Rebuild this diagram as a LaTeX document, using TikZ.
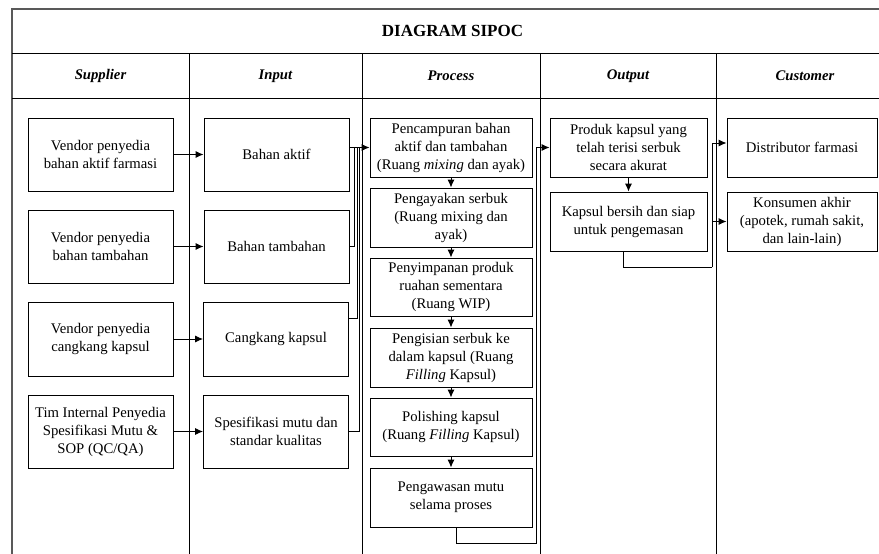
\documentclass[tikz,border=0pt]{standalone}
\usepackage{fontspec}
\setmainfont{Liberation Serif}
\usetikzlibrary{arrows.meta,calc}
\begin{document}
\begin{tikzpicture}[x=1pt,y=-1pt,
  box/.style={draw, line width=0.9pt, inner sep=0pt, align=center,
    font=\fontsize{14.7}{18}\selectfont},
  sbox/.style={box, minimum width=145, minimum height=73},
  pbox/.style={box, minimum width=162, minimum height=59},
  obox/.style={box, minimum width=157, minimum height=59},
  cbox/.style={box, minimum width=150, minimum height=59},
  conn/.style={line width=0.9pt},
  arr/.style={conn, -{Latex[length=8pt,width=7pt]}},
  frame/.style={line width=1.6pt, draw=black!65},
  grid/.style={line width=1pt},
  hdr/.style={inner sep=0pt, font=\fontsize{14.7}{18}\selectfont\bfseries\itshape},
  ttl/.style={inner sep=0pt, font=\fontsize{17}{20}\selectfont\bfseries}]
\useasboundingbox (0,0) rectangle (879,554);
% table frame
\draw[frame] (12,554) -- (12,9) -- (879,9);
\draw[grid] (12,53) -- (879,53);
\draw[grid] (12,98) -- (879,98);
\foreach \cx in {189,362,540,716} \draw[grid] (\cx,53) -- (\cx,554);
% headers
\node[ttl] (title) at (452.5,31) {DIAGRAM SIPOC};
\node[hdr] (hS) at (100.5,76) {Supplier};
\node[hdr] (hI) at (275.5,76) {Input};
\node[hdr] (hP) at (451,76) {Process};
\node[hdr] (hO) at (628,76) {Output};
\node[hdr] (hC) at (805,76) {Customer};
% supplier
\node[sbox] (s1) at (100.5,154.5) {Vendor penyedia\\bahan aktif farmasi};
\node[sbox] (s2) at (100.5,246.5) {Vendor penyedia\\bahan tambahan};
\node[sbox, minimum height=74] (s3) at (100.5,339) {Vendor penyedia\\cangkang kapsul};
\node[sbox] (s4) at (100.5,431.5) {Tim Internal Penyedia\\Spesifikasi Mutu \&\\SOP (QC/QA)};
% input
\node[sbox] (i1) at (276.5,154.5) {Bahan aktif};
\node[sbox] (i2) at (276.5,246.5) {Bahan tambahan};
\node[sbox, minimum height=74] (i3) at (276,339) {Cangkang kapsul};
\node[sbox] (i4) at (276,431.5) {Spesifikasi mutu dan\\standar kualitas};
% process
\node[pbox] (p1) at (451,147.5) {Pencampuran bahan\\aktif dan tambahan\\(Ruang \textit{mixing} dan ayak)};
\node[pbox] (p2) at (451,217.5) {Pengayakan serbuk\\(Ruang mixing dan\\ayak)};
\node[pbox, minimum height=58] (p3) at (451,287) {Penyimpanan produk\\ruahan sementara\\(Ruang WIP)};
\node[pbox] (p4) at (451,357.5) {Pengisian serbuk ke\\dalam kapsul (Ruang\\\textit{Filling} Kapsul)};
\node[pbox, minimum height=58] (p5) at (451,427) {Polishing kapsul\\(Ruang \textit{Filling} Kapsul)};
\node[pbox] (p6) at (451,497.5) {Pengawasan mutu\\selama proses};
% output
\node[obox] (o1) at (628.5,147.5) {Produk kapsul yang\\telah terisi serbuk\\secara akurat};
\node[obox] (o2) at (628.5,221.5) {Kapsul bersih dan siap\\untuk pengemasan};
% customer
\node[cbox] (c1) at (802,147.5) {Distributor farmasi};
\node[cbox] (c2) at (802,221.5) {Konsumen akhir\\(apotek, rumah sakit,\\dan lain-lain)};
% supplier -> input
\draw[arr] (s1.east) -- (i1.west);
\draw[arr] (s2.east) -- (i2.west);
\draw[arr] (s3.east) -- (i3.west);
\draw[arr] (s4.east) -- (i4.west);
% input -> process
\draw[arr] (i1.east |- p1.west) -- (p1.west);
\draw[conn] (i2.east) -| ($(p1.west)+(-15,0)$);
\draw[conn] ($(i3.north east)!0.23!(i3.south east)$) -| ($(p1.west)+(-12.5,0)$);
\draw[conn] (i4.east) -| ($(p1.west)+(-10,0)$);
% process chain
\draw[arr] (p1.south) -- (p2.north);
\draw[arr] (p2.south) -- (p3.north);
\draw[arr] (p3.south) -- (p4.north);
\draw[arr] (p4.south) -- (p5.north);
\draw[arr] (p5.south) -- (p6.north);
% process -> output
\coordinate (b2) at (536,543);
\draw[arr] ($(p6.south)+(5,0)$) |- (b2) |- (o1.west);
\draw[arr] (o1.south) -- (o2.north);
% output -> customer
\coordinate (b3) at (712,267);
\draw[conn] ($(o2.south)+(-5,0)$) |- (b3);
\draw[arr] (b3) |- ($(c1.west)+(0,-4.5)$);
\draw[arr] (b3) |- (c2.west);
\end{tikzpicture}
\end{document}
